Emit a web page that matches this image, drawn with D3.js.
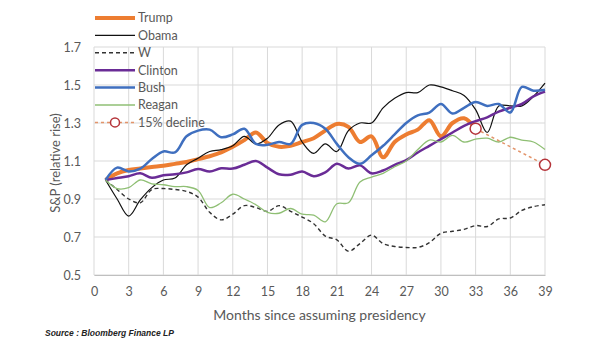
<!DOCTYPE html>
<html>
<head>
<meta charset="utf-8">
<script src="https://cdn.jsdelivr.net/npm/d3@7"></script>
<style>
  body { margin: 0; background: #fff; }
  svg { display: block; }
</style>
</head>
<body>
<div id="chart"></div>
<script>
// months since assuming presidency (x categories)
const months = d3.range(1, 40);

// S&P relative rise
const trump = [1.00, 1.035, 1.053, 1.06, 1.068, 1.075, 1.085, 1.095, 1.11, 1.125, 1.145, 1.175, 1.21, 1.25, 1.195, 1.175, 1.18, 1.20, 1.22, 1.26, 1.295, 1.28, 1.20, 1.23, 1.12, 1.20, 1.24, 1.265, 1.315, 1.23, 1.30, 1.325, 1.27];
const obama = [1.00, 0.90, 0.81, 0.895, 0.96, 1.00, 1.01, 1.08, 1.115, 1.15, 1.16, 1.18, 1.23, 1.19, 1.22, 1.29, 1.31, 1.20, 1.14, 1.19, 1.15, 1.26, 1.30, 1.30, 1.38, 1.43, 1.46, 1.46, 1.50, 1.49, 1.47, 1.445, 1.37, 1.25, 1.39, 1.39, 1.39, 1.44, 1.51];
const w = [1.00, 0.95, 0.90, 0.88, 0.95, 0.955, 0.95, 0.94, 0.91, 0.83, 0.79, 0.82, 0.865, 0.855, 0.835, 0.865, 0.835, 0.805, 0.77, 0.705, 0.685, 0.625, 0.665, 0.71, 0.665, 0.65, 0.645, 0.645, 0.67, 0.72, 0.73, 0.74, 0.76, 0.755, 0.795, 0.80, 0.84, 0.86, 0.87];
const clinton = [1.00, 1.01, 1.02, 1.035, 1.012, 1.025, 1.03, 1.04, 1.058, 1.045, 1.062, 1.06, 1.08, 1.10, 1.065, 1.03, 1.028, 1.045, 1.02, 1.04, 1.085, 1.06, 1.077, 1.035, 1.05, 1.08, 1.105, 1.145, 1.18, 1.215, 1.25, 1.285, 1.31, 1.33, 1.36, 1.38, 1.40, 1.44, 1.465];
const bush = [1.00, 1.065, 1.045, 1.06, 1.11, 1.15, 1.145, 1.23, 1.26, 1.265, 1.225, 1.24, 1.27, 1.19, 1.185, 1.20, 1.19, 1.29, 1.30, 1.27, 1.19, 1.12, 1.085, 1.13, 1.18, 1.24, 1.30, 1.34, 1.355, 1.40, 1.35, 1.38, 1.41, 1.39, 1.40, 1.355, 1.49, 1.47, 1.475];
const reagan = [1.00, 0.955, 0.96, 1.00, 0.98, 0.975, 0.965, 0.965, 0.945, 0.855, 0.88, 0.925, 0.90, 0.87, 0.83, 0.825, 0.85, 0.82, 0.815, 0.78, 0.875, 0.88, 0.99, 1.015, 1.035, 1.07, 1.10, 1.16, 1.21, 1.20, 1.235, 1.20, 1.215, 1.22, 1.20, 1.225, 1.21, 1.20, 1.16];
const declineMonths = [33, 39];
const decline = [1.27, 1.08];

const xTicks = d3.range(0, 40, 3);
const yTicks = [0.5, 0.7, 0.9, 1.1, 1.3, 1.5, 1.7];

const width = 605, height = 341;
const margin = { top: 47, right: 60, bottom: 66, left: 94 };

const svg = d3.select("#chart").append("svg")
  .attr("width", width)
  .attr("height", height)
  .style("font-family", "Lato, 'Open Sans', sans-serif");

const x = d3.scaleLinear().domain([0, 39]).range([margin.left, width - margin.right]);
const y = d3.scaleLinear().domain([0.5, 1.7]).range([height - margin.bottom, margin.top]);

// gridlines
svg.append("g")
  .selectAll("line.v")
  .data(xTicks)
  .join("line")
  .attr("x1", d => x(d)).attr("x2", d => x(d))
  .attr("y1", y(0.5)).attr("y2", y(1.7))
  .attr("stroke", "#d9d9d9").attr("stroke-width", 1);

svg.append("g")
  .selectAll("line.h")
  .data(yTicks)
  .join("line")
  .attr("x1", x(0)).attr("x2", x(39))
  .attr("y1", d => y(d)).attr("y2", d => y(d))
  .attr("stroke", "#d9d9d9").attr("stroke-width", 1);

// axes (labels only, Excel style)
const xAxis = svg.append("g")
  .attr("transform", `translate(0,${y(0.5)})`)
  .call(d3.axisBottom(x).tickValues(xTicks).tickSize(0).tickPadding(12));
xAxis.select(".domain").attr("stroke", "#bfbfbf");
xAxis.selectAll("text").attr("fill", "#595959").style("font-size", "12.5px").style("font-family", "Lato, sans-serif");

const yAxis = svg.append("g")
  .attr("transform", `translate(${x(0)},0)`)
  .call(d3.axisLeft(y).tickValues(yTicks).tickFormat(d3.format(".1f")).tickSize(0).tickPadding(13));
yAxis.select(".domain").remove();
yAxis.selectAll("text").attr("fill", "#595959").style("font-size", "12.5px").style("font-family", "Lato, sans-serif");

// axis titles
svg.append("text")
  .attr("x", (x(0) + x(39)) / 2)
  .attr("y", 320)
  .attr("text-anchor", "middle")
  .attr("fill", "#595959")
  .style("font-size", "14px")
  .text("Months since assuming presidency");

svg.append("text")
  .attr("transform", `translate(60,163) rotate(-90)`)
  .attr("text-anchor", "middle")
  .attr("fill", "#595959")
  .style("font-size", "13px")
  .text("S&P (relative rise)");

svg.append("text")
  .attr("x", 45)
  .attr("y", 336)
  .attr("fill", "#222")
  .style("font-family", "'Liberation Sans', Arial, sans-serif")
  .style("font-size", "8.5px")
  .style("font-weight", "bold")
  .style("font-style", "italic")
  .text("Source : Bloomberg Finance LP");

// series
const seriesList = [
  { name: "Trump", values: trump, color: "#ed7d31", width: 4, dash: null },
  { name: "Obama", values: obama, color: "#111111", width: 1.2, dash: null },
  { name: "W", values: w, color: "#333333", width: 1.4, dash: "4,3" },
  { name: "Clinton", values: clinton, color: "#6a2c96", width: 2.5, dash: null },
  { name: "Bush", values: bush, color: "#3f6fbf", width: 2.5, dash: null },
  { name: "Reagan", values: reagan, color: "#8fbf74", width: 1.3, dash: null }
];

const line = d3.line()
  .x(d => x(d[0]))
  .y(d => y(d[1]))
  .curve(d3.curveCatmullRom.alpha(0.5));

seriesList.forEach(s => {
  svg.append("path")
    .datum(s.values.map((v, i) => [months[i], v]))
    .attr("d", line)
    .attr("fill", "none")
    .attr("stroke", s.color)
    .attr("stroke-width", s.width)
    .attr("stroke-linejoin", "round")
    .attr("stroke-dasharray", s.dash);
});

// 15% decline
const declineData = decline.map((v, i) => [declineMonths[i], v]);
svg.append("path")
  .datum(declineData)
  .attr("d", d3.line().x(d => x(d[0])).y(d => y(d[1])))
  .attr("fill", "none")
  .attr("stroke", "#e3946a")
  .attr("stroke-width", 1.5)
  .attr("stroke-dasharray", "3,3");

svg.selectAll("circle.decl")
  .data(declineData)
  .join("circle")
  .attr("cx", d => x(d[0]))
  .attr("cy", d => y(d[1]))
  .attr("r", 5.5)
  .attr("fill", "#fff")
  .attr("stroke", "#b5343a")
  .attr("stroke-width", 1.5);

// legend
const legendItems = seriesList.concat([{ name: "15% decline", color: "#e3946a", width: 1.5, dash: "3,3", marker: true }]);
const legend = svg.append("g").attr("transform", "translate(95,18)");
legendItems.forEach((s, i) => {
  const g = legend.append("g").attr("transform", `translate(0,${i * 17.4})`);
  g.append("line")
    .attr("x1", 0).attr("x2", 40)
    .attr("stroke", s.color)
    .attr("stroke-width", s.width)
    .attr("stroke-dasharray", s.dash);
  if (s.marker) {
    g.append("circle")
      .attr("cx", 20).attr("r", 4.5)
      .attr("fill", "#fff")
      .attr("stroke", "#b5343a")
      .attr("stroke-width", 1.5);
  }
  g.append("text")
    .attr("x", 43)
    .attr("dy", "0.35em")
    .attr("fill", "#595959")
    .style("font-size", "12.5px")
    .text(s.name);
});
</script>
</body>
</html>
